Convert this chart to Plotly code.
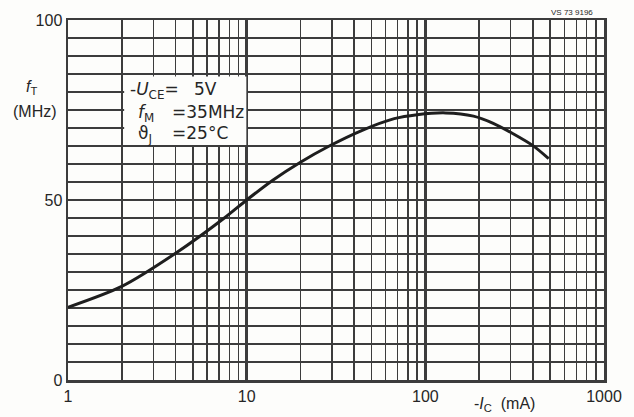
import plotly.graph_objects as go

# Data
ic_ma = [1, 2, 4, 7.5, 10, 14, 20, 29, 44, 67, 90, 130, 186, 240, 310, 400, 490]
ft_mhz = [20.2, 26, 35.2, 45, 50, 55.5, 60.5, 65, 69.3, 72.6, 73.7, 74.2, 73.3, 71.3, 68.4, 65.1, 61.5]

x_major = [1, 10, 100, 1000]
x_major_text = ["1", "10", "100", "1000"]
x_minor = [m * d for d in (1, 10, 100) for m in range(2, 10)]
y_major = [0, 50, 100]
y_major_text = ["0", "50", "100"]

GRID = "#3c3c3c"
INK = "#262626"
FONT = "Liberation Sans, Arial, sans-serif"
BOXFONT = "DejaVu Sans, sans-serif"

W, H = 634, 417
L, R, T, B = 68, 22, 17, 37
PW, PH = W - L - R, H - T - B


def px(x):
    return (x - L) / PW


def py(y):
    return (H - B - y) / PH


fig = go.Figure()
fig.add_trace(go.Scatter(
    x=ic_ma, y=ft_mhz, mode="lines",
    line=dict(color="#1e1e1e", width=3, shape="spline", smoothing=0.8),
    hoverinfo="skip", showlegend=False,
))

fig.update_layout(
    width=W, height=H,
    margin=dict(l=L, r=R, t=T, b=B),
    paper_bgcolor="#fdfdfb",
    plot_bgcolor="#fdfdfb",
    showlegend=False,
    font=dict(family=FONT, size=16, color=INK),
    xaxis=dict(
        type="log", range=[0, 3],
        tickmode="array", tickvals=x_major, ticktext=x_major_text,
        showgrid=True, gridcolor=GRID, gridwidth=2.4,
        minor=dict(tickmode="array", tickvals=x_minor, showgrid=True,
                   gridcolor=GRID, gridwidth=1.5, ticks=""),
        showline=True, linecolor=GRID, linewidth=2.5, mirror=True,
        ticks="", zeroline=False,
        tickfont=dict(family=FONT, size=16, color=INK),
    ),
    yaxis=dict(
        range=[0, 100],
        tickmode="array", tickvals=y_major, ticktext=y_major_text,
        showgrid=True, gridcolor=GRID, gridwidth=1.6,
        minor=dict(dtick=5, showgrid=True, gridcolor=GRID, gridwidth=1.6, ticks=""),
        showline=True, linecolor=GRID, linewidth=2.5, mirror=True,
        ticks="", zeroline=False,
        tickfont=dict(family=FONT, size=16, color=INK),
    ),
)

# White box for conditions
fig.add_shape(type="rect", xref="paper", yref="paper",
              x0=px(125), x1=px(249), y0=py(143), y1=py(74),
              fillcolor="#fdfdfb", line=dict(width=0), layer="above")


def ann(text, x, y, xanchor="left", size=17, family=BOXFONT):
    fig.add_annotation(text=text, xref="paper", yref="paper",
                       x=px(x), y=py(y), xanchor=xanchor, yanchor="middle",
                       showarrow=False, font=dict(family=family, size=size, color=INK))


ann("-<i>U</i><sub>CE</sub>=", 129, 88)
ann("5V", 194, 87)
ann("<i>f</i><sub>M</sub>", 137, 111)
ann("=35MHz", 172, 110)
ann("ϑ<sub>J</sub>", 137, 132)
ann("=25°C", 172, 131)

# Axis titles
ann("<i>f</i><sub>T</sub>", 31, 85, xanchor="center", size=16, family=FONT)
ann("(MHz)", 35, 109, xanchor="center", size=16, family=FONT)
ann("-<i>I</i><sub>C</sub>  (mA)", 511, 405, xanchor="center", size=16, family=FONT)

# Drawing reference code
ann("VS 73 9196", 580, 9, xanchor="center", size=8, family=FONT)

fig.write_html("out.html",
               config={"displayModeBar": False, "staticPlot": True},
               post_script="document.body.style.margin='0';document.body.style.overflow='hidden';")
